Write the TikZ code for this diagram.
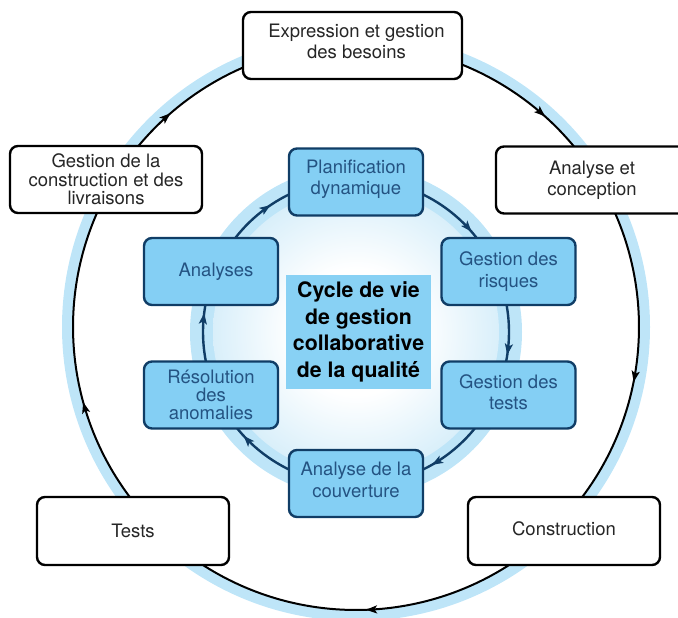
\documentclass[tikz,border=0pt]{standalone}
\usepackage{fontspec}
\setmainfont{TeX Gyre Heros}
\usetikzlibrary{arrows.meta,decorations.markings}
\definecolor{ringblue}{HTML}{BEE5F8}
\definecolor{boxblue}{HTML}{84CFF4}
\definecolor{navy}{HTML}{103D66}
\definecolor{innertext}{HTML}{245382}
\definecolor{outertext}{HTML}{262626}
\definecolor{centerblue}{HTML}{88D1F4}
\definecolor{shadeedge}{HTML}{D9EFFA}
\pgfdeclareradialshading{innerglow}{\pgfpoint{0bp}{0bp}}{color(0bp)=(white); color(11bp)=(white); color(25bp)=(shadeedge); color(50bp)=(shadeedge)}
\pgfdeclarelayer{bg}
\pgfdeclarelayer{mid}
\pgfsetlayers{bg,mid,main}
\tikzset{
  outerbox/.style={draw=black, line width=2.4pt, fill=white, rounded corners=8pt,
    minimum height=67pt, inner sep=0pt, align=center, text=outertext,
    font=\fontsize{18.5}{21}\selectfont},
  innerbox/.style={draw=navy, line width=2.4pt, fill=boxblue, rounded corners=8pt,
    minimum width=134pt, minimum height=67pt, inner sep=0pt, align=center,
    text=innertext, font=\fontsize{18.5}{21.5}\selectfont},
  outerarc/.style={draw=black, line width=2pt, postaction={decorate},
    decoration={markings, mark=at position #1 with {\arrow[color=black]{Stealth[length=11pt,width=8pt,inset=2.5pt]}}}},
  innerarc/.style={draw=navy, line width=2.4pt, postaction={decorate},
    decoration={markings, mark=at position #1 with {\arrow[color=navy]{Stealth[length=11pt,width=8pt,inset=2.5pt]}}}},
  centerbox/.style={fill=centerblue, minimum width=145pt, minimum height=114pt,
    inner sep=0pt, align=center, text=black,
    font=\bfseries\fontsize{21.3}{26.5}\selectfont}
}
\begin{document}
\begin{tikzpicture}[x=1pt,y=1pt]
\useasboundingbox (0,0) rectangle (678,618);
\coordinate (oc) at (356,291);
\coordinate (ic) at (356,286);

% outer boxes
\node[outerbox, minimum width=219pt, text depth=8pt] (exp) at (352.5,572.5) {\hspace*{8pt}Expression et gestion\\\hspace*{8pt}des besoins};
\node[outerbox, minimum width=192pt, font=\fontsize{18.5}{18.7}\selectfont] (gcl) at (106,438.5) {Gestion de la\\construction et des\\livraisons};
\node[outerbox, minimum width=192pt] (ac) at (592,438) {Analyse et\\conception};
\node[outerbox, minimum width=192pt, minimum height=68pt] (tst) at (133,87) {Tests};
\node[outerbox, minimum width=192pt, minimum height=68pt] (cns) at (564,87) {\raisebox{4pt}{Construction}};

% inner boxes
\node[innerbox, text depth=10pt] (pla) at (356,436) {Planification\\dynamique};
\node[innerbox] (gri) at (508.5,346.5) {Gestion des\\risques};
\node[innerbox, text depth=6.3pt] (gte) at (508.5,223) {Gestion des\\tests};
\node[innerbox, text depth=7pt] (cou) at (356,134.5) {Analyse de la\\couverture};
\node[innerbox, font=\fontsize{18.5}{18.3}\selectfont] (res) at (211,223) {Résolution\\des\\anomalies};
\node[innerbox] (ana) at (211,346.5) {\hspace*{10pt}Analyses};

% centre
\node[centerbox] (ctr) at (358.5,286) {Cycle de vie\\de gestion\\collaborative\\de la qualité};

\begin{pgfonlayer}{bg}
  \draw[ringblue, line width=11pt] (oc) circle[radius=288.5];
  \fill[ringblue] (ic) circle[radius=166];
  \shade[shading=innerglow] (ic) circle[radius=143];
\end{pgfonlayer}

\begin{pgfonlayer}{mid}
  % outer cycle: exp -> ac -> cns -> tst -> gcl -> exp
  \draw[outerarc=0.725] ([shift={(90.7:283)}]oc) arc[start angle=90.7, end angle=31.9, radius=283];
  \draw[outerarc=0.565] ([shift={(31.9:283)}]oc) arc[start angle=31.9, end angle=-44.4, radius=283];
  \draw[outerarc=0.468] ([shift={(-44.4:283)}]oc) arc[start angle=-44.4, end angle=-137.5, radius=283];
  \draw[outerarc=0.371] ([shift={(-137.5:283)}]oc) arc[start angle=-137.5, end angle=-210.5, radius=283];
  \draw[outerarc=0.315] ([shift={(149.5:283)}]oc) arc[start angle=149.5, end angle=90.7, radius=283];
  % inner cycle: pla -> gri -> gte -> cou -> res -> ana -> pla
  \draw[innerarc=0.717] ([shift={(90:153)}]ic) arc[start angle=90, end angle=21.6, radius=153];
  \draw[innerarc=0.686] ([shift={(21.6:153)}]ic) arc[start angle=21.6, end angle=-22.4, radius=153];
  \draw[innerarc=0.560] ([shift={(-22.4:153)}]ic) arc[start angle=-22.4, end angle=-90, radius=153];
  \draw[innerarc=0.711] ([shift={(-90:153)}]ic) arc[start angle=-90, end angle=-156.5, radius=153];
  \draw[innerarc=0.664] ([shift={(-156.5:153)}]ic) arc[start angle=-156.5, end angle=-202.6, radius=153];
  \draw[innerarc=0.496] ([shift={(157.4:153)}]ic) arc[start angle=157.4, end angle=90, radius=153];
\end{pgfonlayer}
\end{tikzpicture}
\end{document}
